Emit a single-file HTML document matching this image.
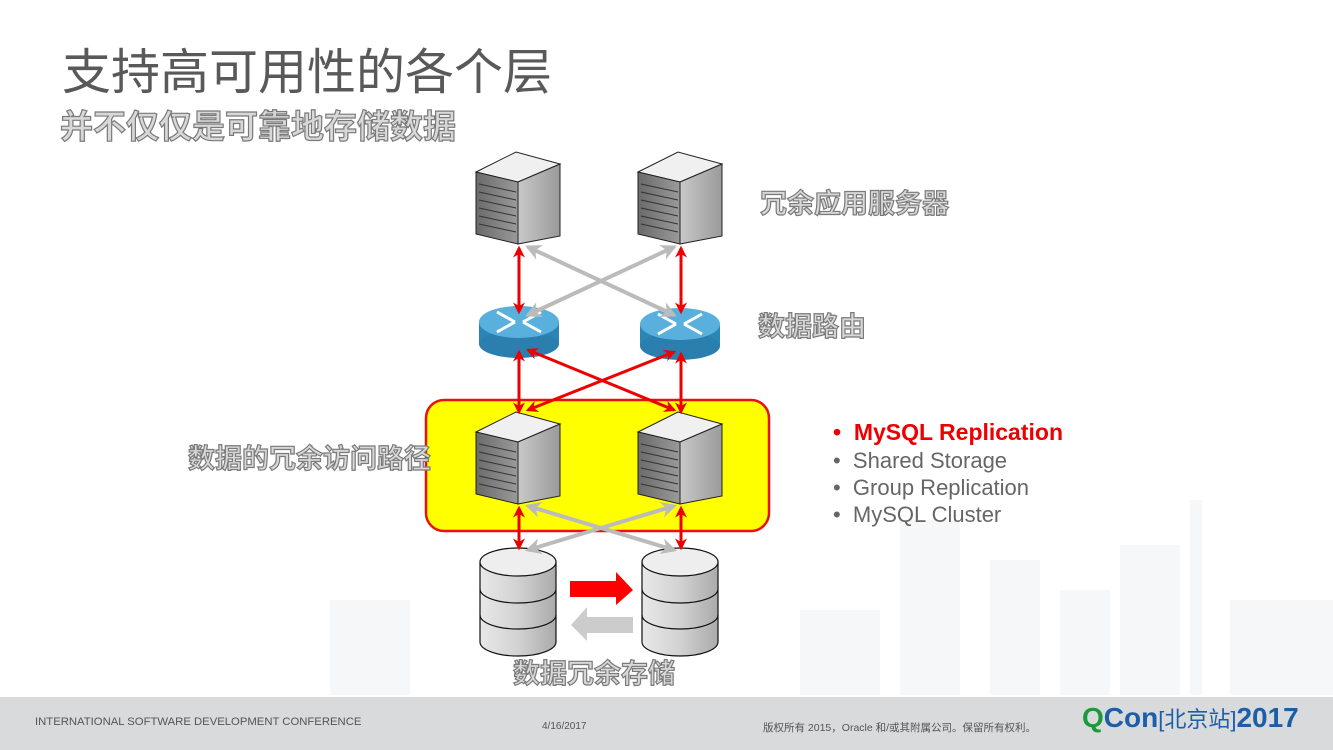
<!DOCTYPE html>
<html><head><meta charset="utf-8"><style>
body{margin:0;width:1333px;height:750px;overflow:hidden;background:#fff;position:relative;font-family:"Liberation Sans","Noto Sans CJK SC",sans-serif}
.t{position:absolute;white-space:nowrap}
.o{color:#d8d8d8;-webkit-text-stroke:1.2px #7a7a7a;font-weight:bold}
.b{font-size:22px;color:#666;position:absolute;left:833px;white-space:nowrap}
</style></head><body>
<svg width="1333" height="750" style="position:absolute;left:0;top:0">
<defs>
<linearGradient id="sf" x1="0" x2="1"><stop offset="0" stop-color="#c8c8c8"/><stop offset="1" stop-color="#9a9a9a"/></linearGradient>
<linearGradient id="ff" x1="0" x2="1"><stop offset="0" stop-color="#6a6a6a"/><stop offset="1" stop-color="#9a9a9a"/></linearGradient>
<linearGradient id="db" x1="0" x2="1"><stop offset="0" stop-color="#e8e8e8"/><stop offset=".5" stop-color="#d2d2d2"/><stop offset="1" stop-color="#aaa"/></linearGradient>
<g id="srv" stroke="#222" stroke-width="1">
<path d="M0,20 L40,0 L84,12 L42,30 Z" fill="#f0f0f0"/>
<path d="M0,20 L42,30 L42,92 L0,82 Z" fill="url(#ff)"/>
<path d="M42,30 L84,12 L84,84 L42,92 Z" fill="url(#sf)"/>
<g stroke="#333" stroke-width="1"><path d="M3,32 L40,40 M3,40 L40,48 M3,48 L40,56 M3,56 L40,64 M3,64 L40,72 M3,72 L40,80"/></g>
</g>
<g id="rt">
<rect x="-40" y="-10" width="80" height="22" fill="#2c86b5"/>
<ellipse cx="0" cy="12" rx="40" ry="14" fill="#2a7fae"/>
<ellipse cx="0" cy="-10" rx="40" ry="16" fill="#5ab0dc"/>
<g stroke="#fff" stroke-width="3" fill="none"><path d="M-22,-20 L-4,-10 M22,-20 L4,-10 M-22,0 L-4,-10 M22,0 L4,-10"/></g>
</g>
<g id="cyl" stroke="#111" stroke-width="1.2">
<path d="M-38,0 L-38,80 A38,14 0 0 0 38,80 L38,0" fill="url(#db)"/>
<path d="M-38,27 A38,14 0 0 0 38,27 M-38,53 A38,14 0 0 0 38,53" fill="none"/>
<ellipse cx="0" cy="0" rx="38" ry="14" fill="#eee"/>
</g>
<marker id="ar" viewBox="0 0 10 10" refX="8" refY="5" markerWidth="4" markerHeight="4" orient="auto-start-reverse"><path d="M0,0 L10,5 L0,10 L3,5z" fill="#e00"/></marker>
<marker id="ag" viewBox="0 0 10 10" refX="8" refY="5" markerWidth="4" markerHeight="4" orient="auto-start-reverse"><path d="M0,0 L10,5 L0,10 L3,5z" fill="#bbb"/></marker>
</defs>
<g fill="#f6f7f8"><rect x="900" y="520" width="60" height="175"/><rect x="990" y="560" width="50" height="135"/><rect x="1060" y="590" width="50" height="105"/><rect x="1120" y="545" width="60" height="150"/><rect x="1190" y="500" width="12" height="195"/><rect x="1230" y="600" width="103" height="95"/><rect x="330" y="600" width="80" height="95"/><rect x="800" y="610" width="80" height="85"/></g>
<rect x="0" y="697" width="1333" height="53" fill="#d9dadb"/>
<rect x="426" y="400" width="343" height="131" rx="18" fill="#ffff00" stroke="#e81010" stroke-width="2.5"/>
<use href="#srv" x="476" y="152"/><use href="#srv" x="638" y="152"/>
<use href="#srv" x="476" y="412"/><use href="#srv" x="638" y="412"/>
<use href="#rt" x="519" y="332"/><use href="#rt" x="680" y="334"/>
<use href="#cyl" x="518" y="562"/><use href="#cyl" x="680" y="562"/>
<g stroke="#bbb" stroke-width="4" fill="none">
<line x1="528" y1="247" x2="674" y2="315" marker-start="url(#ag)" marker-end="url(#ag)"/>
<line x1="674" y1="247" x2="528" y2="315" marker-start="url(#ag)" marker-end="url(#ag)"/>
<line x1="528" y1="506" x2="674" y2="550" marker-start="url(#ag)" marker-end="url(#ag)"/>
<line x1="674" y1="506" x2="528" y2="550" marker-start="url(#ag)" marker-end="url(#ag)"/>
</g>
<g stroke="#e00" stroke-width="3" fill="none">
<line x1="519" y1="248" x2="519" y2="312" marker-start="url(#ar)" marker-end="url(#ar)"/>
<line x1="681" y1="248" x2="681" y2="312" marker-start="url(#ar)" marker-end="url(#ar)"/>
<line x1="519" y1="352" x2="519" y2="412" marker-start="url(#ar)" marker-end="url(#ar)"/>
<line x1="681" y1="354" x2="681" y2="412" marker-start="url(#ar)" marker-end="url(#ar)"/>
<line x1="528" y1="350" x2="674" y2="410" marker-start="url(#ar)" marker-end="url(#ar)"/>
<line x1="674" y1="352" x2="528" y2="410" marker-start="url(#ar)" marker-end="url(#ar)"/>
<line x1="519" y1="508" x2="519" y2="548" marker-start="url(#ar)" marker-end="url(#ar)"/>
<line x1="681" y1="508" x2="681" y2="548" marker-start="url(#ar)" marker-end="url(#ar)"/>
</g>
<path d="M570,581 L616,581 L616,572 L633,590 L616,605 L616,597 L570,597 Z" fill="#f00"/>
<path d="M633,617 L587,617 L587,607 L571,625 L587,641 L587,633 L633,633 Z" fill="#ccc"/>
</svg>
<div class="t" style="left:62px;top:33px;font-size:49px;color:#595959">支持高可用性的各个层</div>
<div class="t o" style="left:60px;top:100px;font-size:33px">并不仅仅是可靠地存储数据</div>
<div class="t o" style="left:760px;top:182px;font-size:27px">冗余应用服务器</div>
<div class="t o" style="left:758px;top:305px;font-size:27px">数据路由</div>
<div class="t o" style="left:188px;top:437px;font-size:27px">数据的冗余访问路径</div>
<div class="t o" style="left:513px;top:652px;font-size:27px">数据冗余存储</div>
<div class="b" style="top:419px;color:#e00;font-weight:bold;font-size:23px">•&nbsp;&nbsp;MySQL Replication</div>
<div class="b" style="top:448px">•&nbsp;&nbsp;Shared Storage</div>
<div class="b" style="top:475px">•&nbsp;&nbsp;Group Replication</div>
<div class="b" style="top:502px">•&nbsp;&nbsp;MySQL Cluster</div>
<div class="t" style="left:35px;top:716px;font-size:11.3px;color:#555">INTERNATIONAL SOFTWARE DEVELOPMENT CONFERENCE</div>
<div class="t" style="left:542px;top:721px;font-size:10px;color:#555">4/16/2017</div>
<div class="t" style="left:763px;top:720px;font-size:10.5px;color:#555">版权所有 2015，Oracle 和/或其附属公司。保留所有权利。</div>
<div class="t" style="left:1082px;top:702px;font-size:28px;font-weight:bold;color:#1d5ea8"><span style="color:#1a9a3a">Q</span>Con<span style="font-weight:normal;font-size:22px">[北京站]</span>2017</div>
</body></html>
